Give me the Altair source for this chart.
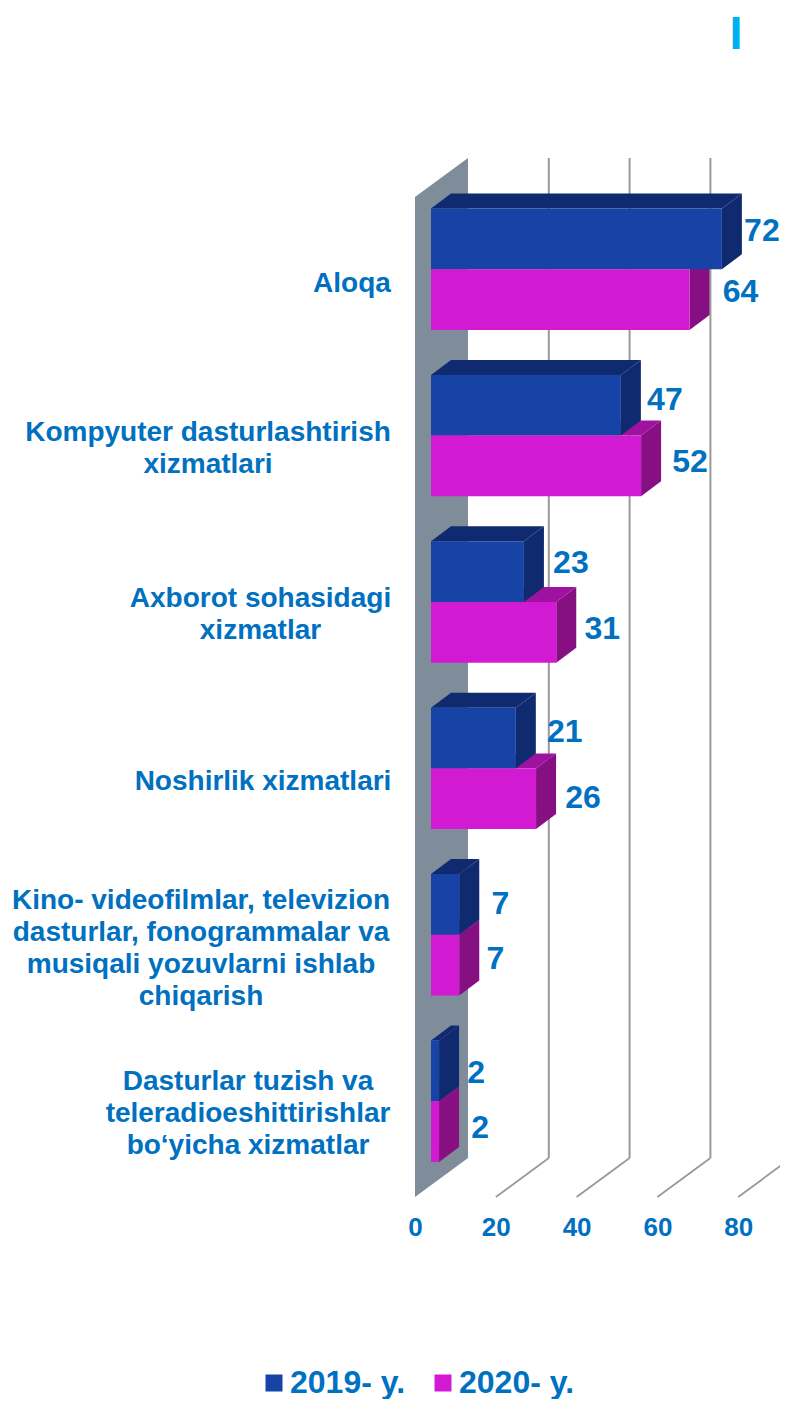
import altair as alt
import pandas as pd

categories = ["Aloqa", "Kompyuter dasturlashtirish\nxizmatlari", "Axborot sohasidagi\nxizmatlar",
              "Noshirlik xizmatlari",
              "Kino- videofilmlar, televizion\ndasturlar, fonogrammalar va\nmusiqali yozuvlarni ishlab\nchiqarish",
              "Dasturlar tuzish va\nteleradioeshittirishlar\nbo‘yicha xizmatlar"]
values_2019 = [72, 47, 23, 21, 7, 2]
values_2020 = [64, 52, 31, 26, 7, 2]
years = ["2019- y.", "2020- y."]
ticks = [0, 20, 40, 60, 80]

# layout (pixels in the plot area, page minus the 8px margin)
W, H = 772, 1391
PX = 4.04
ORIGIN = 407
xdom = [-ORIGIN / PX, (W - ORIGIN) / PX]
def dx(p):
    return p / PX

BLUE, BLUE_D = "#1742A6", "#102A70"
MAG, MAG_S, MAG_T = "#D21AD2", "#860F82", "#9F12A0"
WALL = "#7F8C99"
GRID = "#999999"
TEXT = "#0070C0"
FONT = "Liberation Sans"

STEP = 166.4
BAR_H = 60.7
FIRST_TOP = 200.5
BAR_OFF = 16
DEPTH_X, DEPTH_Y = 20, 15
WALL_X, WALL_Y = 53, 39
WALL_TOP, WALL_BOT = 150, 1150

label_cx = [344, 200, 252.5, 255, 193, 240]
label_cy = [276, 441, 607, 774, 941, 1106]
line_h = 32
off_2019 = [40, 44, 47, 49, 41, 37]
off_2020 = [51, 49, 46, 47, 36, 41]
ly_2019 = [223, 392, 555, 724, 896, 1065]
ly_2020 = [284, 454, 621, 790, 951, 1120]

xs = alt.Scale(domain=xdom, nice=False, zero=False)
ys = alt.Scale(domain=[0, H], reverse=True, nice=False, zero=False)
x_axis = alt.Axis(values=ticks, domain=False, ticks=False, grid=False, offset=-(H + 8 - 1214), labelPadding=0,
                  labelFont=FONT, labelFontSize=26, labelFontWeight="bold", labelColor=TEXT,
                  labelFlush=False, labelOverlap=False, format="d", title=None)
X = alt.X("x:Q", scale=xs, axis=x_axis, title=None)
X2 = alt.X2("x2:Q")
Y = alt.Y("y:Q", scale=ys, axis=None)
Y2 = alt.Y2("y2:Q")

def top_face(value, top, key):
    x0 = BAR_OFF
    w = value * PX
    slope = DEPTH_Y / DEPTH_X
    stops = sorted({0, DEPTH_X, w, w + DEPTH_X})
    rows = []
    for s in stops:
        upper = top - min(s, DEPTH_X) * slope
        lower = top - max(0, s - w) * slope
        rows.append({"x": dx(x0 + s), "y": upper, "y2": lower, "k": key})
    return rows

def side_face(value, top, key):
    x1 = BAR_OFF + value * PX
    return [
        {"x": dx(x1), "y": top, "y2": top + BAR_H, "k": key},
        {"x": dx(x1 + DEPTH_X), "y": top - DEPTH_Y, "y2": top + BAR_H - DEPTH_Y, "k": key},
    ]

tops = {0: [], 1: []}
sides = {0: [], 1: []}
fronts = []
labels = []
for i, (a, b) in enumerate(zip(values_2019, values_2020)):
    t0 = FIRST_TOP + i * STEP
    t1 = t0 + BAR_H
    tops[0] += top_face(a, t0, i)
    tops[1] += top_face(b, t1, i)
    sides[0] += side_face(a, t0, i)
    sides[1] += side_face(b, t1, i)
    fronts.append({"x": dx(BAR_OFF), "x2": dx(BAR_OFF) + a, "y": t0, "y2": t1, "year": years[0]})
    fronts.append({"x": dx(BAR_OFF), "x2": dx(BAR_OFF) + b, "y": t1, "y2": t1 + BAR_H, "year": years[1]})
    labels.append({"x": dx(BAR_OFF + off_2019[i]) + a, "y": ly_2019[i], "t": str(a)})
    labels.append({"x": dx(BAR_OFF + off_2020[i]) + b, "y": ly_2020[i], "t": str(b)})

def area(rows, color):
    return alt.Chart(pd.DataFrame(rows)).mark_area(color=color, orient="vertical", line=False).encode(
        x=X, y=Y, y2=Y2, detail="k:N")

wall = area([
    {"x": 0, "y": WALL_TOP + WALL_Y, "y2": WALL_BOT + WALL_Y, "k": 0},
    {"x": dx(WALL_X), "y": WALL_TOP, "y2": WALL_BOT, "k": 0},
], WALL)

grid_rows = [{"x": t + dx(WALL_X), "y": WALL_TOP, "y2": WALL_BOT} for t in ticks[1:]]
grid = alt.Chart(pd.DataFrame(grid_rows)).mark_rule(color=GRID, strokeWidth=2).encode(x=X, y=Y, y2=Y2)

floor_rows = []
for t in ticks[1:]:
    floor_rows.append({"x": t, "y": WALL_BOT + WALL_Y, "k": t})
    floor_rows.append({"x": t + dx(WALL_X), "y": WALL_BOT, "k": t})
floor = alt.Chart(pd.DataFrame(floor_rows)).mark_line(color=GRID, strokeWidth=1.8).encode(
    x=X, y=Y, detail="k:N")

front = alt.Chart(pd.DataFrame(fronts)).mark_rect().encode(
    x=X, x2=X2, y=Y, y2=Y2,
    color=alt.Color("year:N", scale=alt.Scale(domain=years, range=[BLUE, MAG]),
                    legend=alt.Legend(title=None, orient="none", legendX=250, legendY=1359, columns=2,
                                      columnPadding=21, padding=0, symbolType="square", symbolSize=289,
                                      symbolStrokeWidth=0, labelFont=FONT, labelFontSize=32,
                                      labelFontWeight="bold", labelColor=TEXT, labelOffset=0,
                                      labelLimit=300)))

value_labels = alt.Chart(pd.DataFrame(labels)).mark_text(
    font=FONT, fontSize=32, fontWeight="bold", color=TEXT, align="center", baseline="middle"
).encode(x=X, y=Y, text="t:N")

cat_rows = []
for c, cx, cy in zip(categories, label_cx, label_cy):
    lines = c.split("\n")
    for j, ln in enumerate(lines):
        cat_rows.append({"x": (cx - ORIGIN) / PX, "y": cy + (j - (len(lines) - 1) / 2) * line_h, "t": ln})
cat_labels = alt.Chart(pd.DataFrame(cat_rows)).mark_text(
    font=FONT, fontSize=28, fontWeight="bold", color=TEXT, align="center", baseline="middle"
).encode(x=X, y=Y, text="t:N")

stub = alt.Chart(pd.DataFrame([{"x": (728 - ORIGIN) / PX, "y": 41, "t": "I"}])).mark_text(
    font=FONT, fontSize=47, fontWeight="bold", color="#00B0F0", align="center", baseline="alphabetic"
).encode(x=X, y=Y, text="t:N")

chart = alt.layer(
    wall, grid, floor,
    area(tops[1], MAG_T), area(sides[1], MAG_S),
    area(tops[0], BLUE_D), area(sides[0], BLUE_D),
    front, value_labels, cat_labels, stub,
).properties(width=W, height=H, padding=0, autosize=alt.AutoSizeParams(type="none")
).configure_view(stroke=None)

chart.save("out.html", embed_options={"renderer": "svg", "actions": False})
